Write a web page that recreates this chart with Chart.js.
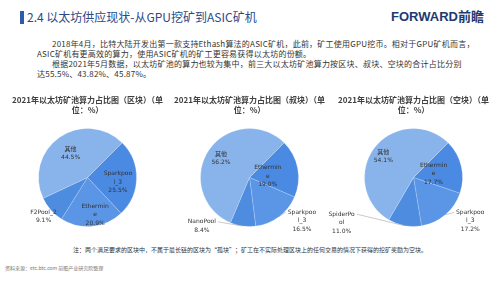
<!DOCTYPE html>
<html><head><meta charset="utf-8">
<script src="https://cdn.jsdelivr.net/npm/chart.js@4"></script>
<style>
html,body{margin:0;padding:0;background:#fff;}
#page{position:relative;width:499px;height:281px;overflow:hidden;background:#fff;font-family:"Noto Sans CJK SC","Noto Sans",sans-serif;}
.t{position:absolute;white-space:nowrap;}
canvas{position:absolute;}
.p{position:absolute;white-space:nowrap;font-size:8px;line-height:10px;color:#333;letter-spacing:0.22px;}
</style></head><body>
<div id="page">
  <div style="position:absolute;left:20px;top:11px;width:4px;height:13px;background:#2E5AAC"></div>
  <div class="t" style="left:27px;top:9px;font-size:12px;line-height:16px;color:#2B4A87">2.4 以太坊供应现状-从GPU挖矿到ASIC矿机</div>
  <div class="t" style="left:391px;top:9px;font-size:13px;line-height:16px;color:#1E3A6E;font-weight:bold;font-family:'Liberation Sans','Noto Sans CJK SC',sans-serif">FORWARD前瞻</div>
  <div class="p" style="left:52px;top:39px">2018年4月，比特大陆开发出第一款支持Ethash算法的ASIC矿机，此前，矿工使用GPU挖币。相对于GPU矿机而言，</div>
  <div class="p" style="left:37px;top:49px">ASIC矿机有更高效的算力，使用ASIC矿机的矿工更容易获得以太坊的份额。</div>
  <div class="p" style="left:52px;top:59px">根据2021年5月数据，以太坊矿池的算力也较为集中，前三大以太坊矿池算力按区块、叔块、空块的合计占比分别</div>
  <div class="p" style="left:37px;top:69px">达55.5%、43.82%、45.87%。</div>
  <canvas id="c1" width="175" height="150" style="left:0px;top:92px"></canvas>
  <canvas id="c2" width="175" height="150" style="left:162px;top:92px"></canvas>
  <canvas id="c3" width="179" height="150" style="left:324px;top:92px"></canvas>
  <div class="t" style="left:73px;top:246px;font-size:6px;line-height:8px;color:#333">注：两个满足要求的区块中，不属于最长链的区块为“孤块”；矿工在不实际处理区块上的任何交易的情况下获得的挖矿奖励为空块。</div>
  <div class="t" style="left:5px;top:265px;font-size:5px;line-height:6px;color:#777">资料来源：etc.btc.com 前瞻产业研究院整理</div>
</div>
<script>
// ---- data ----
const title1 = ['2021年以太坊矿池算力占比图（区块）（单', '位：%）'];
const title2 = ['2021年以太坊矿池算力占比图（叔块）（单', '位：%）'];
const title3 = ['2021年以太坊矿池算力占比图（空块）（单', '位：%）'];
const cats1 = ['Sparkpool_3', 'Ethermine', 'F2Pool_2', '其他'];
const vals1 = [25.5, 20.9, 9.1, 44.5];
const cats2 = ['Ethermine', 'Sparkpool_3', 'NanoPool', '其他'];
const vals2 = [19.0, 16.5, 8.4, 56.2];
const cats3 = ['Ethermine', 'Sparkpool_3', 'SpiderPool', '其他'];
const vals3 = [17.7, 17.2, 11.0, 54.1];

// ---- styles ----
const sliceColors = ['#4A8AE2', '#5B96E6', '#4E8CE0', '#88B4EB'];
const place1 = [{k:0.62, dy:4}, {k:0.76, dx:4}, {k:1.2}, {k:0.6}];
const place2 = [{k:0.38, dy:2}, {edge:true, dx:23, dy:4}, {edge:true, dx:-41, dy:0}, {k:0.7}];
const place3 = [{k:0.42, dy:1}, {edge:true, dx:25, dy:6}, {edge:true, dx:-63, dy:-3}, {k:0.7, dx:-3}];

Chart.defaults.font.family = '"Noto Sans CJK SC","Noto Sans",sans-serif';

function wrap(s){
  const out = [];
  for (let i = 0; i < s.length; i += 8) out.push(s.slice(i, i + 8));
  return out;
}

const labelPlugin = {
  id: 'pieLabels',
  afterDatasetsDraw(chart, args, opts) {
    const ctx = chart.ctx;
    const meta = chart.getDatasetMeta(0);
    const ds = chart.data.datasets[0];
    ctx.save();
    ctx.font = '6px "DejaVu Sans","Noto Sans CJK SC",sans-serif';
    ctx.textAlign = 'center';
    ctx.textBaseline = 'middle';
    const lh = 8.5;
    meta.data.forEach((arc, i) => {
      const p = arc.getProps(['x','y','startAngle','endAngle','outerRadius'], true);
      const mid = (p.startAngle + p.endAngle) / 2;
      const c = Math.cos(mid), s = Math.sin(mid);
      const pl = opts.place[i];
      const lines = wrap(chart.data.labels[i]).concat([ds.data[i].toFixed(1) + '%']);
      let cx, cy;
      if (pl.edge) {
        const ex = p.x + c * p.outerRadius, ey = p.y + s * p.outerRadius;
        cx = ex + pl.dx; cy = ey + pl.dy;
        const w = Math.max(...lines.map(l => ctx.measureText(l).width));
        const top = cy - (lines.length - 1) * lh / 2;
        const lx = pl.dx > 0 ? cx - w / 2 - 2 : cx + w / 2 + 2;
        ctx.strokeStyle = '#a6a6a6';
        ctx.lineWidth = 0.6;
        ctx.beginPath(); ctx.moveTo(ex, ey); ctx.lineTo(lx, top); ctx.stroke();
      } else {
        cx = p.x + c * p.outerRadius * pl.k + (pl.dx || 0);
        cy = p.y + s * p.outerRadius * pl.k + (pl.dy || 0);
      }
      ctx.fillStyle = '#333';
      lines.forEach((l, j) => ctx.fillText(l, cx, cy - (lines.length - 1) * lh / 2 + j * lh));
    });
    ctx.restore();
  }
};

function makePie(id, title, cats, vals, place) {
  new Chart(document.getElementById(id), {
    type: 'pie',
    data: {
      labels: cats,
      datasets: [{
        data: vals,
        backgroundColor: sliceColors,
        borderColor: 'rgba(255,255,255,0.3)',
        borderWidth: 0.6,
        radius: 49,
        rotation: 45
      }]
    },
    options: {
      responsive: false,
      animation: false,
      devicePixelRatio: 1,
      layout: { padding: { bottom: 10 } },
      plugins: {
        legend: { display: false },
        tooltip: { enabled: false },
        title: {
          display: true,
          text: title,
          color: '#404040',
          font: { size: 8, weight: 'bold', lineHeight: 1.25 },
          padding: { top: 3, bottom: 8 }
        },
        pieLabels: { place: place }
      }
    },
    plugins: [labelPlugin]
  });
}
makePie('c1', title1, cats1, vals1, place1);
makePie('c2', title2, cats2, vals2, place2);
makePie('c3', title3, cats3, vals3, place3);
</script>
</body></html>
